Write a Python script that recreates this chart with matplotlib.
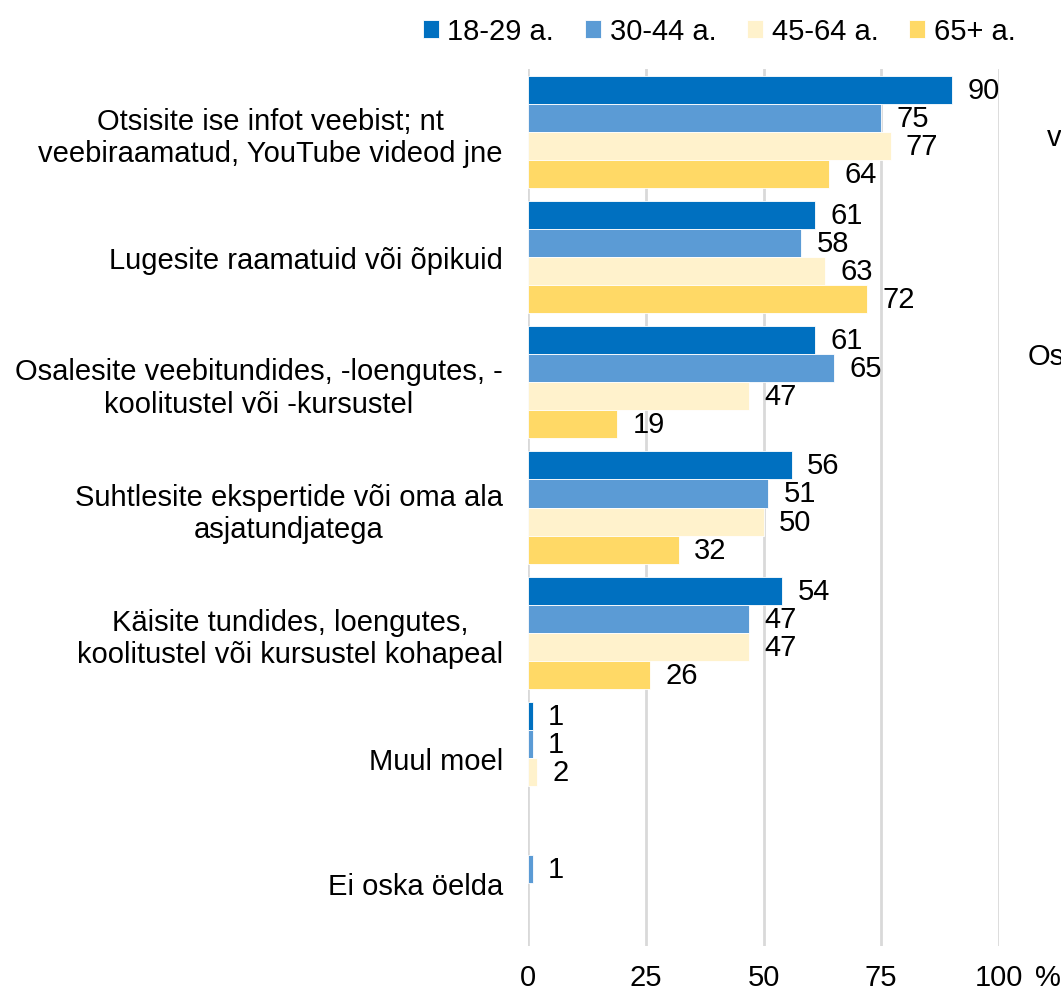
import matplotlib
matplotlib.use("Agg")
import matplotlib.pyplot as plt
import numpy as np

plt.rcParams['font.family'] = ['Liberation Sans', 'DejaVu Sans']

categories = [
    "Otsisite ise infot veebist; nt\nveebiraamatud, YouTube videod jne",
    "Lugesite raamatuid või õpikuid",
    "Osalesite veebitundides, -loengutes, -\nkoolitustel või -kursustel",
    "Suhtlesite ekspertide või oma ala\nasjatundjatega",
    "Käisite tundides, loengutes,\nkoolitustel või kursustel kohapeal",
    "Muul moel",
    "Ei oska öelda",
]
series_names = ["18-29 a.", "30-44 a.", "45-64 a.", "65+ a."]
v18_29 = [90, 61, 61, 56, 54, 1, None]
v30_44 = [75, 58, 65, 51, 47, 1, 1]
v45_64 = [77, 63, 47, 50, 47, 2, None]
v65 = [64, 72, 19, 32, 26, None, None]
colors = ["#0070C0", "#5B9BD5", "#FFF2CC", "#FFD966"]
xticks = [0, 25, 50, 75, 100]

W, H = 1061, 995
fig = plt.figure(figsize=(W / 100, H / 100), dpi=100)
ax = fig.add_axes([528 / W, 1 - 947 / H, (999 - 528) / W, (947 - 70) / H])

series = [v18_29, v30_44, v45_64, v65]
n = len(categories)
y = np.arange(n)
bh = 0.224
fs = 21

for i, (vals, col, name) in enumerate(zip(series, colors, series_names)):
    offs = (i - 1.5) * bh
    ys = [yy + offs for yy, v in zip(y, vals) if v is not None]
    xs = [v for v in vals if v is not None]
    ax.barh(ys, xs, height=bh, color=col, label=name,
            edgecolor="white", linewidth=0.6, zorder=3)
    for yy, v in zip(ys, xs):
        ax.annotate(f"{v}", xy=(v, yy), xytext=(11, 0), textcoords="offset points",
                    ha="left", va="center", fontsize=fs, color="#000000", zorder=4)

ax.set_ylim(n - 0.5, -0.5)
ax.set_xlim(0, 100)
ax.set_xticks(xticks)
ax.set_xticklabels([str(t) for t in xticks], fontsize=fs)
ax.set_yticks(y)
ax.set_yticklabels(categories, fontsize=fs, multialignment="center")
ax.tick_params(axis="both", length=0)
ax.tick_params(axis="y", pad=18)
ax.tick_params(axis="x", pad=12)
ax.grid(axis="x", color="#D9D9D9", linewidth=2, zorder=0)
for s in ax.spines.values():
    s.set_visible(False)

ax.annotate("%", xy=(100, 0), xycoords=("data", "axes fraction"),
            xytext=(26, -12), textcoords="offset points",
            ha="left", va="top", fontsize=fs)

leg = fig.legend(loc="upper center", bbox_to_anchor=(719 / W, 1.008), ncol=4,
                 frameon=False, fontsize=fs, handlelength=0.55, handleheight=0.55,
                 handletextpad=0.3, columnspacing=1.05)

fig.text(1047 / W, 1 - 138 / H, "v", fontsize=fs, ha="left", va="center")
fig.text(1028 / W, 1 - 357 / H, "Os", fontsize=fs, ha="left", va="center")

fig.savefig("out.png", dpi=100)
